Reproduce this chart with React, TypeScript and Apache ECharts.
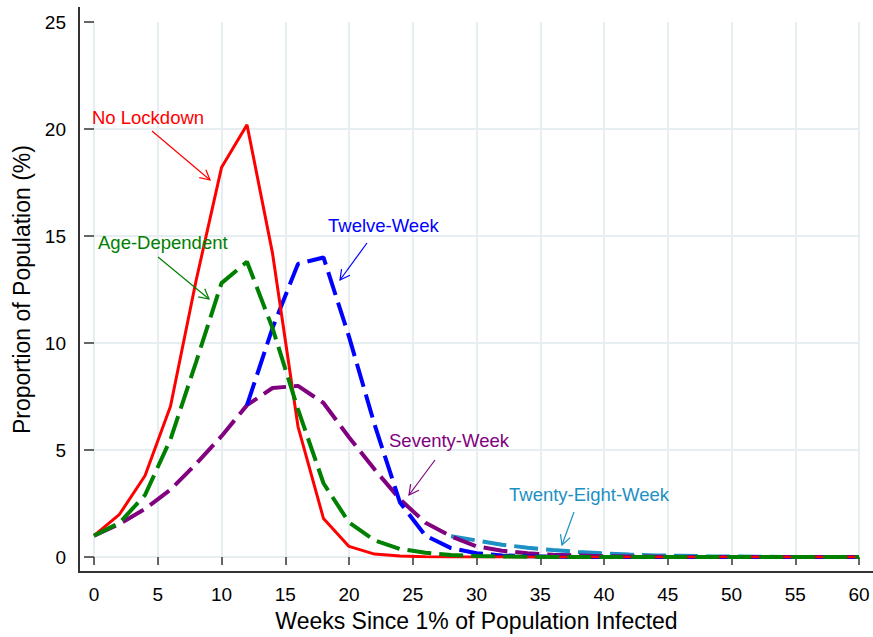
import React, { useEffect, useRef } from "react";
import * as echarts from "echarts";

const weeks = [0, 2, 4, 6, 8, 10, 12, 14, 16, 18, 20, 22, 24, 26, 28, 30, 32, 34, 36, 38, 40, 42, 44, 46, 48, 50, 52, 54, 56, 58, 60];

const noLockdown = [1.0, 2.0, 3.8, 7.05, 12.9, 18.2, 20.2, 14.2, 6.1, 1.8, 0.5, 0.14, 0.05, 0.02, 0.01, 0, 0, 0, 0, 0, 0, 0, 0, 0, 0, 0, 0, 0, 0, 0, 0];
const ageDependent = [1.0, 1.6, 2.9, 5.5, 9.1, 12.8, 13.8, 10.7, 6.9, 3.45, 1.62, 0.78, 0.38, 0.2, 0.1, 0.05, 0.03, 0.02, 0.01, 0.01, 0, 0, 0, 0, 0, 0, 0, 0, 0, 0, 0];
const seventyWeek = [1.0, 1.55, 2.25, 3.15, 4.35, 5.65, 7.1, 7.9, 8.0, 7.2, 5.6, 4.1, 2.7, 1.6, 0.97, 0.5, 0.3, 0.18, 0.11, 0.07, 0.04, 0.03, 0.02, 0.01, 0.01, 0, 0, 0, 0, 0, 0];
const twelveWeek = [null, null, null, null, null, null, 7.1, 10.7, 13.7, 14.0, 10.3, 6.2, 2.55, 1.0, 0.42, 0.18, 0.08, 0.04, 0.02, 0.01, 0.01, 0, 0, 0, 0, 0, 0, 0, 0, 0, 0];
const twentyEightWeek = [null, null, null, null, null, null, null, null, null, null, null, null, null, null, 0.97, 0.78, 0.58, 0.44, 0.33, 0.24, 0.17, 0.12, 0.08, 0.06, 0.04, 0.03, 0.02, 0.01, 0.01, 0.01, 0];

const xTicks = [0, 5, 10, 15, 20, 25, 30, 35, 40, 45, 50, 55, 60];
const yTicks = [0, 5, 10, 15, 20, 25];

const FONT = "'Liberation Sans', Arial, Helvetica, sans-serif";

const annotations = [
  { text: "No Lockdown", color: "#ff0000", tx: 92, ty: 117, from: [152, 131], to: [210, 180] },
  { text: "Age-Dependent", color: "#008000", tx: 98, ty: 242, from: [158, 257], to: [209, 299] },
  { text: "Twelve-Week", color: "#0000ff", tx: 328, ty: 225, from: [367, 243], to: [340, 280] },
  { text: "Seventy-Week", color: "#800080", tx: 389, ty: 440, from: [435, 460], to: [409, 495] },
  { text: "Twenty-Eight-Week", color: "#1d90c4", tx: 509, ty: 494, from: [574, 512], to: [562, 545] },
];

function pairs(vals: (number | null)[]) {
  const out: number[][] = [];
  weeks.forEach((w, i) => {
    const v = vals[i];
    if (v !== null && v !== undefined) out.push([w, v]);
  });
  return out;
}

function arrowGraphics(a: any) {
  const [x1, y1] = a.from;
  const [x2, y2] = a.to;
  const dx = x2 - x1;
  const dy = y2 - y1;
  const len = Math.sqrt(dx * dx + dy * dy);
  const ux = dx / len;
  const uy = dy / len;
  const L = 11;
  const ang = (28 * Math.PI) / 180;
  const rot = (s: number) => [
    x2 - L * (ux * Math.cos(s * ang) - uy * Math.sin(s * ang)),
    y2 - L * (ux * Math.sin(s * ang) + uy * Math.cos(s * ang)),
  ];
  const p1 = rot(1);
  const p2 = rot(-1);
  return [
    {
      type: "text",
      x: a.tx,
      y: a.ty,
      style: { text: a.text, fill: a.color, font: `18.5px ${FONT}`, textAlign: "left", textVerticalAlign: "middle" },
      z: 100,
    },
    {
      type: "line",
      shape: { x1, y1, x2, y2 },
      style: { stroke: a.color, lineWidth: 1.2 },
      z: 100,
    },
    {
      type: "polyline",
      shape: { points: [p1, [x2, y2], p2] },
      style: { stroke: a.color, lineWidth: 1.2, fill: null },
      z: 100,
    },
  ];
}

export default function App() {
  const ref = useRef<HTMLDivElement>(null);

  useEffect(() => {
    if (!ref.current) return;
    const chart = echarts.init(ref.current, null, { renderer: "svg" });
    const grid = "#e6eef1";
    const dash = [24, 8];
    const option: any = {
      animation: false,
      backgroundColor: "#ffffff",
      grid: { left: 94, right: 14, top: 22, bottom: 79, containLabel: false },
      xAxis: {
        type: "value",
        min: 0,
        max: 60,
        interval: 5,
        offset: 14,
        name: "Weeks Since 1% of Population Infected",
        nameLocation: "middle",
        nameGap: 36,
        nameTextStyle: { fontSize: 23, color: "#000", fontFamily: FONT },
        axisLine: { show: false },
        axisTick: { show: true, length: 8, lineStyle: { color: "#333", width: 1.5 } },
        axisLabel: {
          fontSize: 19,
          color: "#000",
          fontFamily: FONT,
          margin: 14,
          formatter: (v: number) => (xTicks.includes(v) ? String(v) : ""),
        },
        splitLine: { show: true, lineStyle: { color: grid, width: 2 } },
      },
      yAxis: {
        type: "value",
        min: 0,
        max: 25,
        interval: 5,
        offset: 15,
        name: "Proportion of Population (%)",
        nameLocation: "middle",
        nameGap: 45,
        nameTextStyle: { fontSize: 23, color: "#000", fontFamily: FONT },
        axisLine: { show: false },
        axisTick: { show: true, length: 10, lineStyle: { color: "#333", width: 1.5 } },
        axisLabel: {
          fontSize: 19,
          color: "#000",
          fontFamily: FONT,
          margin: 13,
          formatter: (v: number) => (yTicks.includes(v) ? String(v) : ""),
        },
        splitLine: {
          show: true,
          lineStyle: { color: [grid, grid, grid, grid, grid, "rgba(0,0,0,0)"], width: 2 },
        },
      },
      series: [
        {
          name: "Twenty-Eight-Week",
          type: "line",
          data: pairs(twentyEightWeek),
          symbol: "none",
          lineStyle: { color: "#1d90c4", width: 4, type: dash, cap: "butt" },
        },
        {
          name: "Seventy-Week",
          type: "line",
          data: pairs(seventyWeek),
          symbol: "none",
          lineStyle: { color: "#800080", width: 4, type: dash, cap: "butt" },
        },
        {
          name: "Twelve-Week",
          type: "line",
          data: pairs(twelveWeek),
          symbol: "none",
          lineStyle: { color: "#0000ff", width: 4, type: dash, cap: "butt" },
        },
        {
          name: "No Lockdown",
          type: "line",
          data: pairs(noLockdown),
          symbol: "none",
          lineStyle: { color: "#ff0000", width: 3, type: "solid" },
        },
        {
          name: "Age-Dependent",
          type: "line",
          data: pairs(ageDependent),
          symbol: "none",
          lineStyle: { color: "#008000", width: 4, type: dash, cap: "butt" },
        },
      ],
      graphic: [
        {
          type: "line",
          shape: { x1: 79, y1: 7, x2: 79, y2: 573 },
          style: { stroke: "#333", lineWidth: 2 },
          z: 50,
        },
        {
          type: "line",
          shape: { x1: 78, y1: 572, x2: 873, y2: 572 },
          style: { stroke: "#333", lineWidth: 2 },
          z: 50,
        },
        ...annotations.flatMap(arrowGraphics),
      ],
    };
    chart.setOption(option);
    return () => chart.dispose();
  }, []);

  return (
    <div
      ref={ref}
      style={{ position: "absolute", left: 0, top: 0, width: 873, height: 637, background: "#fff" }}
    />
  );
}
